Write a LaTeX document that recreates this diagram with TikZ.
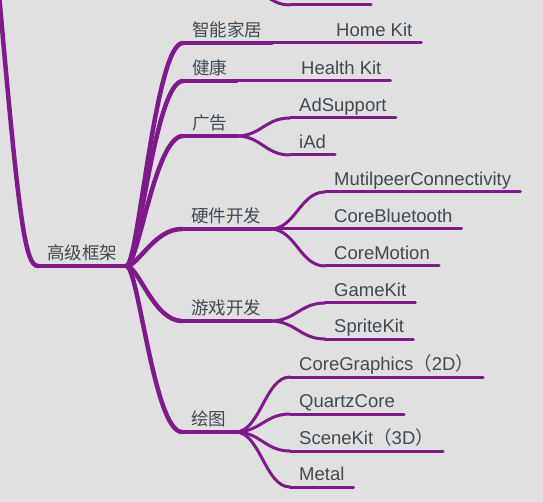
\documentclass[tikz,border=0pt]{standalone}
\usepackage{fontspec}
\setmainfont{Liberation Sans}
\newfontfamily\cjk{Noto Sans CJK SC}
\usepackage{xcolor}
\usepackage{tikz}
\usetikzlibrary{arrows.meta, positioning, calc}

\definecolor{bg}{HTML}{E0E0E0}
\definecolor{mind}{HTML}{7F1A8B}
\definecolor{txt}{HTML}{3E4A54}

\begin{document}
\begin{tikzpicture}[
      x=1pt, y=-1pt,
      topic/.style ={anchor=south west, inner xsep=9pt, inner ysep=6.5pt, text depth=0pt, text=txt, font=\cjk\fontsize{17.5}{20}\selectfont},
      leaf/.style  ={anchor=south west, inner xsep=9pt, inner ysep=6pt, text depth=0pt, text=txt, font=\fontsize{18.5}{22}\selectfont},
      branch/.style={draw=mind, line width=4.5pt, line cap=round},
      twig/.style  ={draw=mind, line width=3pt, line cap=round}
    ]
    \useasboundingbox (0,0) rectangle (543,502);
    \fill[bg] (0,0) rectangle (543,502);
    \clip (0,0) rectangle (543,502);

    % Hauptthemen
    \node[topic] (gj) at (38,266)  {高级框架};
    \node[topic] (zn) at (183,43)  {智能家居};
    \node[topic] (jk) at (183,81)  {健康};
    \node[topic] (gg) at (183,136) {广告};
    \node[topic] (yj) at (182,229) {硬件开发};
    \node[topic] (yx) at (182,321) {游戏开发};
    \node[topic] (ht) at (182,432) {绘图};

    % Blaetter
    \node[leaf] (pk) at (290,5)   {PassKit};
    \node[leaf] (hk) at (327,43)  {Home Kit};
    \node[leaf] (hl) at (292,81)  {Health Kit};
    \node[leaf] (ad) at (290,118) {AdSupport};
    \node[leaf] (ia) at (290,155) {iAd};
    \node[leaf] (mc) at (325,192) {MutilpeerConnectivity};
    \node[leaf] (cb) at (325,229) {CoreBluetooth};
    \node[leaf] (cm) at (325,266) {CoreMotion};
    \node[leaf] (gk) at (325,303) {GameKit};
    \node[leaf] (sk) at (325,339) {SpriteKit};
    \node[leaf] (cg) at (290,377) {CoreGraphics{\cjk （}2D{\cjk ）}};
    \node[leaf] (qc) at (290,414) {QuartzCore};
    \node[leaf] (sn) at (290,451) {SceneKit{\cjk （}3D{\cjk ）}};
    \node[leaf] (mt) at (290,487) {Metal};

    % Zweige ausserhalb des Bildes
    \coordinate (rt) at (-4,-40);
    \coordinate (pp) at (222,-30);

    % Unterstriche
    \foreach \n in {gj,zn,jk,gg,yj,yx,ht}
      \draw[branch] (\n.south west) -- (\n.south east);
    \foreach \n in {pk,hk,hl,ad,ia,mc,cb,cm,gk,sk,cg,qc,sn,mt}
      \draw[twig] (\n.south west) -- (\n.south east);

    % Stamm zu 高级框架
    \draw[branch] (rt) .. controls +(22,250) and +(-14,0) .. (gj.south west);
    \draw[twig] (pp) .. controls +(32,0) and +(-30,0) .. (pk.south west);

    % Vom Knoten zu den Themen
    \foreach \n in {zn,jk,gg,yj,yx,ht}
      \draw[branch] (gj.south east) .. controls +(12,0) and +(-28,0) .. (\n.south west);

    % Themen zu Blaettern
    \draw[twig] (zn.south east) -- (hk.south west);
    \draw[twig] (jk.south east) -- (hl.south west);
    \foreach \n in {ad,ia}
      \draw[twig] (gg.south east) .. controls +(25,0) and +(-25,0) .. (\n.south west);
    \foreach \n in {mc,cb,cm}
      \draw[twig] (yj.south east) .. controls +(25,0) and +(-25,0) .. (\n.south west);
    \foreach \n in {gk,sk}
      \draw[twig] (yx.south east) .. controls +(25,0) and +(-25,0) .. (\n.south west);
    \foreach \n in {cg,qc,sn,mt}
      \draw[twig] (ht.south east) .. controls +(25,0) and +(-25,0) .. (\n.south west);

  \end{tikzpicture}
\end{document}
